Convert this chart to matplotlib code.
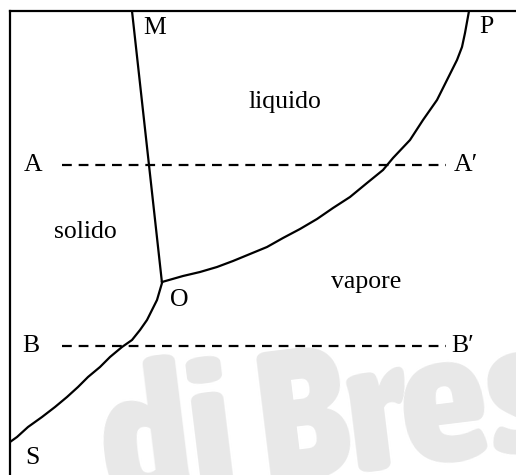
import matplotlib
matplotlib.use("Agg")
import matplotlib.pyplot as plt
from matplotlib import font_manager

# phase diagram, coordinates in arbitrary T / P units
melt_T = [122, 152]                      # M -> O (solido / liquido)
melt_P = [464, 192]

# O -> P (liquido / vapore)
vap_T = [152, 173, 190, 207, 223, 240, 257, 273, 290, 307, 323, 340, 357,
         373, 383, 400, 413, 427, 437, 447, 452, 455, 457, 459]
vap_P = [193, 199, 203, 208, 214, 221, 228, 237, 246, 256, 267, 278, 292,
         305, 317, 335, 355, 375, 395, 415, 428, 442, 453, 464]

# O -> S (solido / vapore)
subl_T = [152, 147, 142, 137, 130, 122, 112, 100, 90, 78, 68, 57, 45, 32, 18, 7, 0]
subl_P = [192, 175, 165, 155, 145, 135, 128, 118, 108, 98, 88, 78, 68, 58, 48, 38, 33]

iso_T = [52, 436]        # dashed isobars A-A' and B-B'
iso_A = 310
iso_B = 129

labels = ["M", "P", "liquido", "A", "A\u2032", "solido", "O", "vapore", "B", "B\u2032", "S"]
label_T = [145, 476, 275, 23, 456, 75, 169, 356, 21, 453, 22]
label_P = [447, 448, 373, 310, 310, 243, 175, 193, 129, 129, 17]

fig = plt.figure(figsize=(5.16, 4.75), dpi=100)
ax = fig.add_axes([10/516, 0, 506/516, 464/475])
ax.set_xlim(0, 506)
ax.set_ylim(0, 464)
for s in ["right", "bottom"]:
    ax.spines[s].set_visible(False)
for s in ["left", "top"]:
    ax.spines[s].set_linewidth(1.6)
ax.set_xticks([])
ax.set_yticks([])

# watermark: pick a heavy narrow sans if one is installed
cands = [f for f in font_manager.fontManager.ttflist
         if ("Narrow" in f.name or "Condensed" in f.name)
         and (str(f.weight) in ("bold", "heavy", "black") or (isinstance(f.weight, int) and f.weight >= 700))]
if cands:
    wm_font = font_manager.FontProperties(fname=cands[0].fname, size=135)
else:
    wm_font = font_manager.FontProperties(family="DejaVu Sans", weight="bold", size=120)
ax.text(82, -28, "di Bres", fontproperties=wm_font, color="#e8e8e8", rotation=7,
        ha="left", va="baseline", zorder=0, clip_on=True)

lw = 1.6
ax.plot(melt_T, melt_P, color="black", lw=lw, solid_capstyle="butt")
ax.plot(vap_T, vap_P, color="black", lw=lw, solid_joinstyle="round")
ax.plot(subl_T, subl_P, color="black", lw=lw, solid_joinstyle="round")
ax.plot(iso_T, [iso_A, iso_A], color="black", lw=lw, linestyle=(0, (4.4, 3.1)))
ax.plot(iso_T, [iso_B, iso_B], color="black", lw=lw, linestyle=(0, (4.4, 3.1)))

for lab, t, p in zip(labels, label_T, label_P):
    ax.text(t, p, lab, fontsize=18.5, family=["Liberation Serif", "DejaVu Serif"],
            ha="center", va="center", clip_on=False)

fig.savefig("out.png", dpi=100)
